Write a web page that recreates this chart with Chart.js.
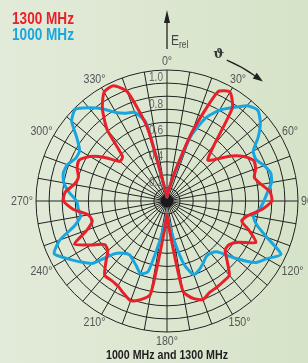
<!DOCTYPE html>
<html>
<head>
<meta charset="utf-8">
<script src="https://cdn.jsdelivr.net/npm/chart.js@4"></script>
<style>
  html, body { margin: 0; padding: 0; }
  body {
    width: 308px; height: 363px; position: relative; overflow: hidden;
    background: linear-gradient(90deg, #e2ebd9 0%, #dbe6cf 60%, #d5e3c8 100%);
    font-family: "Liberation Sans", Arial, sans-serif;
  }
  #chart { position: absolute; left: 0; top: 0; }
  .legend { position: absolute; left: 12px; font-weight: bold; font-size: 16px; line-height: 16px;
            transform: scaleX(0.85); transform-origin: left top; white-space: nowrap; }
  #title { position: absolute; left: 167px; top: 347px; font-weight: bold; font-size: 13px; color: #1e1e1e;
           white-space: nowrap; transform: translateX(-50%) scaleX(0.82); }
</style>
</head>
<body>
<canvas id="chart" width="308" height="363"></canvas>
<div class="legend" style="top:11px;color:#e8202a">1300 MHz</div>
<div class="legend" style="top:27px;color:#17a6df">1000 MHz</div>
<div id="title">1000 MHz and 1300 MHz</div>
<script>
// angle in degrees, clockwise from 0° at the top
const angles = [0, 5, 10, 15, 20, 25, 30, 35, 40, 45, 50, 55, 60, 65, 70, 75, 80, 85,
  90, 95, 100, 105, 110, 115, 120, 125, 130, 135, 140, 145, 150, 155, 160, 165, 170, 175,
  180, 185, 190, 195, 200, 205, 210, 215, 220, 225, 230, 235, 240, 245, 250, 255, 260, 265,
  270, 275, 280, 285, 290, 295, 300, 305, 310, 315, 320, 325, 330, 335, 340, 345, 350, 355];

// relative field strength E_rel
const e1300 = [0.03, 0.06, 0.10, 0.23, 0.56, 0.92, 0.96, 0.87, 0.56, 0.44, 0.50, 0.60,
  0.68, 0.73, 0.72, 0.69, 0.73, 0.79, 0.80, 0.73, 0.63, 0.59, 0.67, 0.75, 0.63, 0.58,
  0.58, 0.65, 0.74, 0.75, 0.76, 0.77, 0.80, 0.77, 0.70, 0.23, 0.10, 0.23, 0.72, 0.78,
  0.81, 0.78, 0.75, 0.74, 0.74, 0.66, 0.59, 0.58, 0.67, 0.78, 0.65, 0.59, 0.61, 0.72,
  0.79, 0.78, 0.72, 0.70, 0.73, 0.74, 0.68, 0.58, 0.47, 0.48, 0.71, 0.86, 0.96, 0.97,
  0.89, 0.58, 0.10, 0.05];

const e1000 = [0.03, 0.06, 0.10, 0.20, 0.52, 0.70, 0.80, 0.87, 0.95, 0.98, 0.93, 0.85,
  0.76, 0.75, 0.79, 0.82, 0.81, 0.77, 0.74, 0.71, 0.67, 0.71, 0.81, 0.96, 0.88, 0.82,
  0.68, 0.55, 0.52, 0.52, 0.55, 0.58, 0.60, 0.50, 0.30, 0.16, 0.10, 0.16, 0.30, 0.56,
  0.59, 0.55, 0.52, 0.50, 0.52, 0.57, 0.74, 0.81, 0.88, 0.95, 0.87, 0.73, 0.67, 0.68,
  0.69, 0.75, 0.80, 0.82, 0.81, 0.77, 0.77, 0.84, 0.95, 0.99, 0.93, 0.86, 0.78, 0.74,
  0.72, 0.62, 0.10, 0.05];

const angleTicks = [0, 30, 60, 90, 120, 150, 180, 210, 240, 270, 300, 330];
const ringLabels = [1.0, 0.8, 0.6, 0.4, 0.2];

const FONT = '"Liberation Sans", Arial, sans-serif';

// condensed text, like the narrow face of the original
function narrowText(ctx, txt, x, y, k) {
  ctx.save();
  ctx.translate(x, y);
  ctx.scale(k, 1);
  ctx.fillText(txt, 0, 0);
  ctx.restore();
}

// labels, hub, E_rel and theta arrows drawn around the radial scale
const decor = {
  id: 'decor',
  beforeDatasetsDraw(chart) {
    const s = chart.scales.r;
    const ctx = chart.ctx;
    const cx = s.xCenter, cy = s.yCenter, R = s.drawingArea;
    ctx.save();

    ctx.fillStyle = '#1a1a1a';
    ctx.beginPath();
    ctx.arc(cx, cy, 6.5, 0, Math.PI * 2);
    ctx.fill();

    ctx.font = '12px ' + FONT;
    ctx.fillStyle = '#666';
    ctx.textAlign = 'center';
    ctx.textBaseline = 'middle';
    ringLabels.forEach(v => {
      const y = cy - s.getDistanceFromCenterForValue(v);
      narrowText(ctx, v.toFixed(1), cx - 11, y + 8, 0.84);
    });

    ctx.font = '13px ' + FONT;
    ctx.fillStyle = '#555';
    angleTicks.forEach(a => {
      const p = s.getPointPosition(angles.indexOf(a), R + 3);
      const txt = a + '°';
      const w = ctx.measureText(txt).width * 0.82;
      narrowText(ctx, txt, p.x + Math.cos(p.angle) * w / 2, p.y + Math.sin(p.angle) * 6, 0.82);
    });

    // E_rel arrow
    ctx.strokeStyle = '#222';
    ctx.fillStyle = '#222';
    ctx.lineWidth = 1.3;
    ctx.beginPath();
    ctx.moveTo(cx, cy - 152);
    ctx.lineTo(cx, cy - 180);
    ctx.stroke();
    ctx.beginPath();
    ctx.moveTo(cx, cy - 191);
    ctx.lineTo(cx - 3, cy - 178);
    ctx.lineTo(cx + 3, cy - 178);
    ctx.closePath();
    ctx.fill();
    ctx.fillStyle = '#444';
    ctx.textAlign = 'left';
    ctx.textBaseline = 'alphabetic';
    ctx.font = '15px ' + FONT;
    narrowText(ctx, 'E', cx + 4, cy - 156, 0.8);
    ctx.font = '10px ' + FONT;
    narrowText(ctx, 'rel', cx + 12, cy - 153, 0.85);

    // theta arc arrow
    const rA = R + 22;
    const a0 = (23 - 90) * Math.PI / 180, a1 = (35 - 90) * Math.PI / 180;
    ctx.strokeStyle = '#222';
    ctx.lineWidth = 1.2;
    ctx.beginPath();
    ctx.arc(cx, cy, rA, a0, a1);
    ctx.stroke();
    const ex = cx + rA * Math.cos(a1), ey = cy + rA * Math.sin(a1);
    const tx = -Math.sin(a1), ty = Math.cos(a1);
    const nx = Math.cos(a1), ny = Math.sin(a1);
    ctx.fillStyle = '#222';
    ctx.beginPath();
    ctx.moveTo(ex + tx * 10, ey + ty * 10);
    ctx.lineTo(ex + nx * 3.5, ey + ny * 3.5);
    ctx.lineTo(ex - nx * 3.5, ey - ny * 3.5);
    ctx.closePath();
    ctx.fill();
    ctx.fillStyle = '#333';
    ctx.font = 'bold 13px "DejaVu Serif", serif';
    ctx.textAlign = 'center';
    ctx.textBaseline = 'middle';
    const ta = (19.5 - 90) * Math.PI / 180;
    ctx.fillText('ϑ', cx + (R + 24) * Math.cos(ta), cy + (R + 24) * Math.sin(ta));

    ctx.restore();
  }
};

new Chart(document.getElementById('chart'), {
  type: 'radar',
  data: {
    labels: angles,
    datasets: [
      { label: '1300 MHz', data: e1300, borderColor: '#e8202a', borderWidth: 3, fill: false, pointRadius: 0, tension: 0.2 },
      { label: '1000 MHz', data: e1000, borderColor: '#17a6df', borderWidth: 3, fill: false, pointRadius: 0, tension: 0.2 }
    ]
  },
  options: {
    responsive: false,
    animation: false,
    devicePixelRatio: 1,
    layout: { padding: { left: 36, right: 10, top: 70, bottom: 31 } },
    plugins: { legend: { display: false }, tooltip: { enabled: false } },
    scales: {
      r: {
        min: 0,
        max: 1,
        ticks: { display: false, stepSize: 0.1 },
        grid: { circular: true, color: '#222', lineWidth: 1 },
        angleLines: { color: '#222', lineWidth: ctx => (ctx.index % 2 === 0 ? 1 : 0) },
        pointLabels: { display: false }
      }
    }
  },
  plugins: [decor]
});
</script>
</body>
</html>
